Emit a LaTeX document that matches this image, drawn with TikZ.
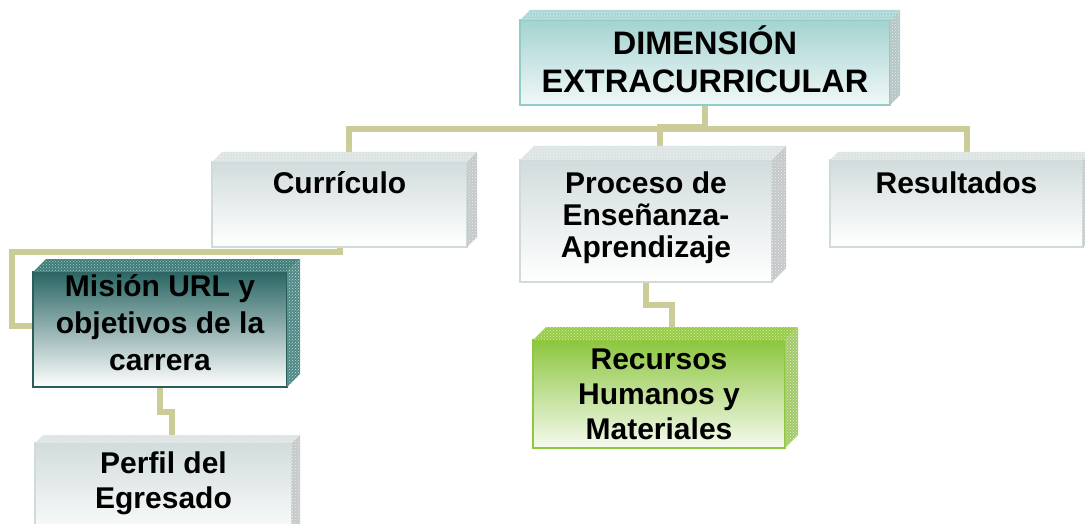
\documentclass[tikz,border=0pt]{standalone}
\usepackage{fontspec}
\setmainfont{Liberation Sans}
\usetikzlibrary{patterns}

\definecolor{linkcol}{HTML}{CCCC99}
\definecolor{tealtop}{HTML}{A3D3D0}
\definecolor{tealedge}{HTML}{93CBC8}
\definecolor{tealface}{HTML}{A9D6D3}
\definecolor{tealside}{HTML}{B3C6C4}
\definecolor{graytop}{HTML}{D2DCDC}
\definecolor{grayedge}{HTML}{D0DADA}
\definecolor{grayface}{HTML}{DCE3E3}
\definecolor{grayside}{HTML}{C4C8C8}
\definecolor{darktop}{HTML}{2A6664}
\definecolor{darkedge}{HTML}{2B5D5B}
\definecolor{darkface}{HTML}{3E7E7A}
\definecolor{darkside}{HTML}{4F8A86}
\definecolor{greentop}{HTML}{8CC63E}
\definecolor{greenedge}{HTML}{8FC73E}
\definecolor{greenface}{HTML}{98CC46}
\definecolor{greenside}{HTML}{A3C96A}

\pgfdeclarelayer{back}
\pgfsetlayers{back,main}

% top and side faces of a box node: name, depth, top colour, side colour
\newcommand{\boxfaces}[4]{%
  \fill[#3,postaction={pattern=crosshatch dots,pattern color=white!60!#3}]
    (#1.north west) -- ++(#2pt,#2pt) -- ([shift={(#2pt,#2pt)}]#1.north east)
    -- (#1.north east) -- cycle;
  \fill[#4,postaction={pattern=crosshatch dots,pattern color=white!70!#4}]
    (#1.north east) -- ++(#2pt,#2pt) -- ([shift={(#2pt,#2pt)}]#1.south east)
    -- (#1.south east) -- cycle;
}

\begin{document}
\begin{tikzpicture}[x=1pt,y=-1pt,
    link/.style={draw=linkcol,line width=6pt}]
\useasboundingbox (0,0) rectangle (1085,524);
\clip (0,0) rectangle (1085,524);

\begin{scope}[every node/.style={rectangle,line width=1.2pt,inner sep=2pt,
              outer sep=0pt,align=center,
              font=\bfseries\fontsize{30}{35}\selectfont}]
    \node[draw=tealedge,top color=tealtop,bottom color=tealtop!15!white,
          minimum width=370,minimum height=85,text depth=7pt,
          font=\bfseries\fontsize{32.5}{38}\selectfont]
          (dim) at (705,62.5) {DIMENSIÓN\\EXTRACURRICULAR};
    \node[draw=grayedge,top color=graytop,bottom color=white,
          minimum width=255,minimum height=85,text depth=45pt]
          (curr) at (339.5,204.5) {Currículo};
    \node[draw=grayedge,top color=graytop,bottom color=white,
          minimum width=252,minimum height=122,text depth=12pt,
          font=\bfseries\fontsize{30}{32}\selectfont]
          (proc) at (646,221) {Proceso de\\Enseñanza-\\Aprendizaje};
    \node[draw=grayedge,top color=graytop,bottom color=white,
          minimum width=253,minimum height=87,text depth=41pt]
          (res) at (956.5,203.5) {Resultados};
    \node[draw=darkedge,top color=darktop,bottom color=white,
          minimum width=254,minimum height=115,text depth=14pt,
          font=\bfseries\fontsize{30}{37}\selectfont]
          (mis) at (160,329.5) {Misión URL y\\objetivos de la\\carrera};
    \node[draw=greenedge,top color=greentop,bottom color=greentop!8!white,
          minimum width=252,minimum height=108]
          (rec) at (659,394) {Recursos\\Humanos y\\Materiales};
    \node[draw=grayedge,top color=graytop,bottom color=white,
          minimum width=257,minimum height=100,text depth=26pt]
          (perf) at (163.5,493) {Perfil del\\Egresado};
\end{scope}

\boxfaces{dim}{10}{tealface}{tealside}
\boxfaces{curr}{10}{grayface}{grayside}
\boxfaces{proc}{14}{grayface}{grayside}
\boxfaces{res}{8}{grayface}{grayside}
\boxfaces{mis}{13}{darkface}{darkside}
\boxfaces{rec}{13}{greenface}{greenside}
\boxfaces{perf}{8}{grayface}{grayside}

\begin{pgfonlayer}{back}
    \coordinate (hub) at (660,127);
    \coordinate (bar) at (660,129.5);
    \coordinate (elbow) at (12,252);
    \draw[link] (dim.south) |- (hub) -- ([xshift=14pt]proc.north);
    \draw[link] ([xshift=9.5pt]curr.north) |- (bar) -| ([xshift=10.5pt]res.north);
    \draw[link] (curr.south) |- (elbow) |- ([yshift=4pt]mis.west);
    \draw[link] (mis.south) -- ++(0,24.5) -| ([xshift=8.5pt]perf.north);
    \draw[link] (proc.south) -- ++(0,22.5) -| ([xshift=13pt]rec.north);
\end{pgfonlayer}
\end{tikzpicture}
\end{document}
